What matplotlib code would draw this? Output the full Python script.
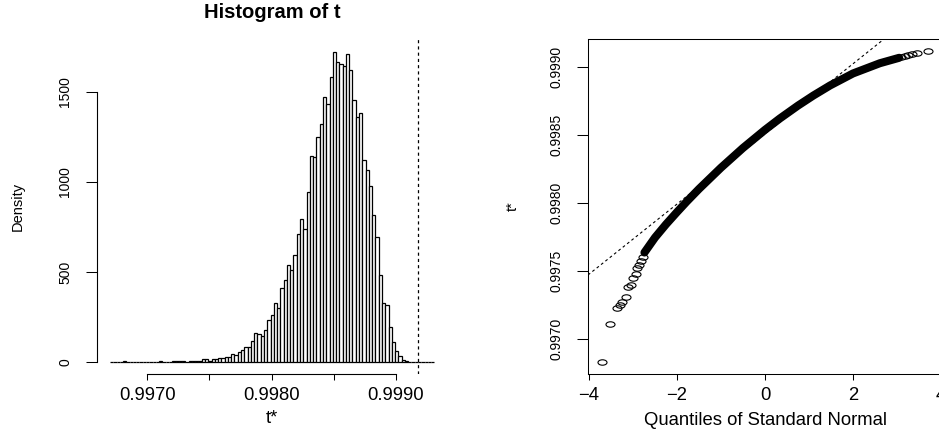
import numpy as np
import matplotlib
matplotlib.use("Agg")
import matplotlib.pyplot as plt
from matplotlib.path import Path
from matplotlib.transforms import Affine2D

plt.rcParams['font.family'] = ['Liberation Sans', 'DejaVu Sans']

# ---------------- data ----------------
t0 = 0.999177            # observed statistic (dashed vertical line)
bin_width = 2.635e-5     # histogram bin width
bins_below_t0 = 94       # number of bins left of t0

density = [0, 0, 0, 0, 8, 0, 0, 0, 0, 0, 0, 0, 0, 0, 0, 8, 0, 0, 0,
           8, 8, 8, 8, 0, 8, 8, 8, 8, 15, 15, 8, 15, 15, 23, 23, 30, 30, 46, 38,
           57, 67, 85, 81, 118, 163, 154, 144, 178, 233, 261, 326, 298, 409, 456,
           539, 510, 597, 711, 793, 737, 943, 1144, 1137, 1252, 1322, 1474, 1433,
           1585, 1724, 1665, 1656, 1645, 1713, 1620, 1455, 1360, 1383, 1121, 1066,
           978, 816, 695, 486, 325, 318, 192, 112, 62, 31, 13, 4,
           0, 0, 0, 0, 0, 0, 0, 0]

hist_xticks = [0.9970, 0.9975, 0.9980, 0.9985, 0.9990]
hist_xticklabels = ['0.9970', '', '0.9980', '', '0.9990']
hist_yticks = [0, 500, 1000, 1500]

# QQ plot: dense band (centre line) and sparse tail points
band_q = [-2.74, -2.5, -2.25, -2.0, -1.78, -1.5, -1.0, -0.5, 0.0, 0.34, 0.75,
          1.1, 1.48, 2.0, 2.61, 3.05]
band_t = [0.997635, 0.997745, 0.997842, 0.997932, 0.998009, 0.998102, 0.998258,
          0.998403, 0.998536, 0.998620, 0.998714, 0.998788, 0.998862, 0.998950,
          0.999025, 0.999065]
low_q = [-3.71, -3.52, -3.37, -3.30, -3.24, -3.17, -3.11, -3.05, -2.99, -2.94,
         -2.90, -2.86, -2.82, -2.78]
low_t = [0.996833, 0.997110, 0.99723, 0.99725, 0.99727, 0.99731, 0.99738,
         0.99740, 0.99745, 0.99748, 0.99752, 0.99754, 0.99757, 0.99760]
high_q = [3.10, 3.18, 3.26, 3.35, 3.45, 3.70]
high_t = [0.999072, 0.999079, 0.999086, 0.999093, 0.999100, 0.999112]

mean_t = 0.998506
sd_t = 0.0002575

qq_xticks = [-4, -2, 0, 2, 4]
qq_yticks = [0.9970, 0.9975, 0.9980, 0.9985, 0.9990]

# ---------------- figure ----------------
W, H = 939, 430
fig = plt.figure(figsize=(W / 100, H / 100), dpi=100)

def px_axes(x0, y_top, x1, y_bot):
    return fig.add_axes([x0 / W, (H - y_bot) / H, (x1 - x0) / W, (y_bot - y_top) / H])

hsize = 13.3   # horizontal text
vsize = 10     # rotated text

# ---- left: histogram ----
ax1 = px_axes(97, 39.3, 447.4, 374.4)
dens = np.array(density, dtype=float)
edges = t0 + (np.arange(len(dens)) - bins_below_t0) * bin_width
ax1.bar(edges, dens, width=bin_width, align='edge', facecolor='white',
        edgecolor='black', linewidth=0.9)
ax1.axvline(t0, color='black', linestyle=(0, (2.5, 2.5)), linewidth=0.9)
ax1.set_xlim(0.996596, 0.999413)
ax1.set_ylim(-69, 1793)
for s in ['top', 'right']:
    ax1.spines[s].set_visible(False)
ax1.spines['bottom'].set_bounds(0.9970, 0.9990)
ax1.spines['left'].set_bounds(0, 1500)
ax1.set_xticks(hist_xticks)
ax1.set_xticklabels(hist_xticklabels)
ax1.set_yticks(hist_yticks)
ax1.set_yticklabels([str(v) for v in hist_yticks])
ax1.tick_params(axis='x', length=6 * 0.72, width=0.75, pad=5, labelsize=hsize)
ax1.tick_params(axis='y', length=11 * 0.72, width=0.75, pad=10, labelsize=vsize,
                labelrotation=90)
for lab in ax1.get_yticklabels():
    lab.set_verticalalignment('center')
ax1.set_title('Histogram of t', fontsize=14.5, fontweight='bold', pad=15)
ax1.set_xlabel('t*', fontsize=hsize)
ax1.xaxis.set_label_coords(0.5, -0.105)
ax1.set_ylabel('Density', fontsize=10.5)
ax1.yaxis.set_label_coords(-0.205, 0.5)

# ---- right: QQ plot ----
ax2 = px_axes(588, 39, 942, 374)
ell = Path.unit_circle().transformed(Affine2D().scale(1.0, 0.6))
ax2.plot(band_q, band_t, color='black', linewidth=5.8, solid_capstyle='round',
         solid_joinstyle='round')
ax2.plot(low_q, low_t, linestyle='none', marker=ell, markersize=6.5,
         markerfacecolor='none', markeredgecolor='black', markeredgewidth=0.8)
ax2.plot(high_q, high_t, linestyle='none', marker=ell, markersize=6.5,
         markerfacecolor='none', markeredgecolor='black', markeredgewidth=0.8)
ax2.axline((0, mean_t), slope=sd_t, color='black', linestyle=(0, (2.5, 2.5)),
           linewidth=0.8)
ax2.set_xlim(-4.023, 4.023)
ax2.set_ylim(0.996743, 0.999203)
ax2.set_xticks(qq_xticks)
ax2.set_xticklabels(['\u22124', '\u22122', '0', '2', '4'])
ax2.set_yticks(qq_yticks)
ax2.set_yticklabels(['%.4f' % v for v in qq_yticks])
for s in ax2.spines.values():
    s.set_linewidth(0.75)
ax2.tick_params(axis='x', length=6 * 0.72, width=0.75, pad=5, labelsize=hsize)
ax2.tick_params(axis='y', length=11 * 0.72, width=0.75, pad=10, labelsize=vsize,
                labelrotation=90)
for lab in ax2.get_yticklabels():
    lab.set_verticalalignment('center')
ax2.set_xlabel('Quantiles of Standard Normal', fontsize=hsize)
ax2.xaxis.set_label_coords(0.5, -0.113)
ax2.set_ylabel('t*', fontsize=10.5)
ax2.yaxis.set_label_coords(-0.192, 0.5)

fig.savefig('out.png', dpi=100)
